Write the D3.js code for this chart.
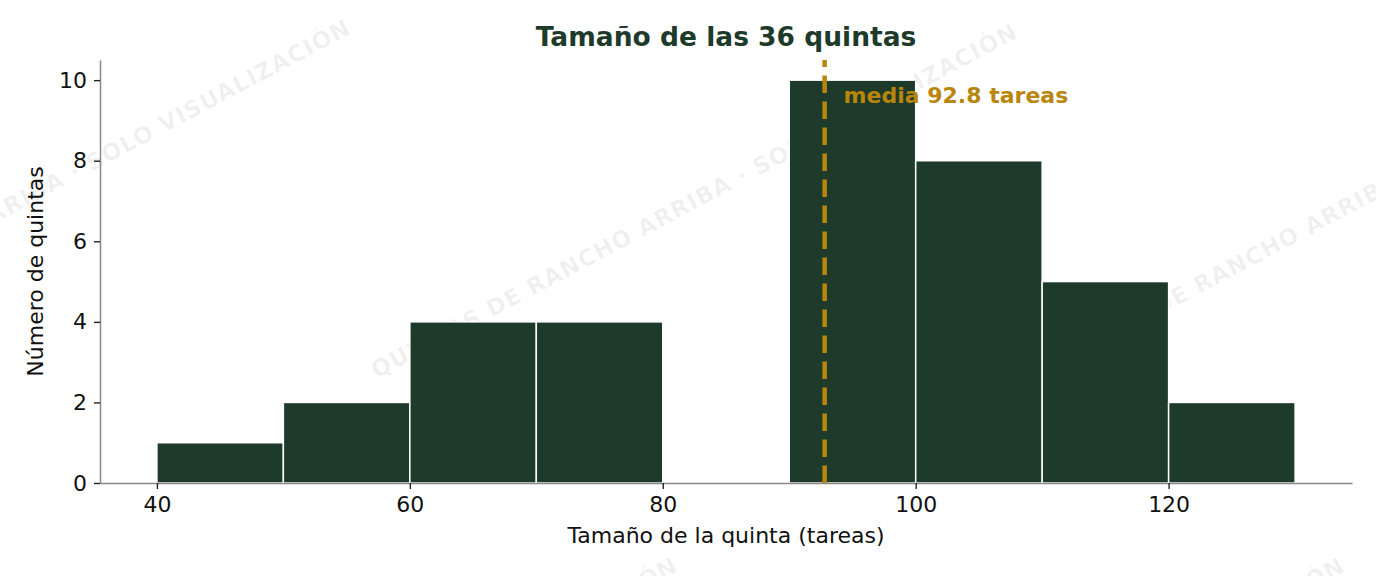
<!DOCTYPE html>
<html>
<head>
<meta charset="utf-8">
<script src="https://cdn.jsdelivr.net/npm/d3@7"></script>
<style>
  html, body { margin: 0; padding: 0; background: #fff; }
  svg { display: block; font-family: "DejaVu Sans", sans-serif; }
</style>
</head>
<body>
<div id="chart"></div>
<script>
// Datos del histograma
const binStarts = [40, 50, 60, 70, 80, 90, 100, 110, 120];
const binWidth = 10;
const counts = [1, 2, 4, 4, 0, 10, 8, 5, 2];
const xTicks = [40, 60, 80, 100, 120];
const yTicks = [0, 2, 4, 6, 8, 10];
const meanValue = 92.8;

const width = 1376, height = 576;
const margin = { top: 60, right: 24, bottom: 93, left: 100 };
const green = '#1e3a2a';
const gold = '#b8860b';

const svg = d3.select('#chart')
  .append('svg')
  .attr('width', width)
  .attr('height', height);

// Marca de agua (detrás de todo)
const wm = svg.append('g').attr('class', 'watermark');
const wmText = 'QUINTAS DE RANCHO ARRIBA  ·  SOLO VISUALIZACIÓN';
const wmCenters = [[28, 198], [695, 202], [1362, 200], [355, 736], [1022, 736]];
wmCenters.forEach(([cx, cy]) => {
  wm.append('text')
    .attr('transform', `translate(${cx},${cy}) rotate(-28)`)
    .attr('text-anchor', 'middle')
    .attr('dominant-baseline', 'middle')
    .style('font-size', '23px')
    .style('font-weight', 'bold')
    .style('letter-spacing', '1px')
    .style('fill', '#000')
    .style('fill-opacity', 0.06)
    .text(wmText);
});

// Escalas
const x = d3.scaleLinear()
  .domain([35.5, 134.5])
  .range([margin.left, width - margin.right]);
const y = d3.scaleLinear()
  .domain([0, 10.5])
  .range([height - margin.bottom, margin.top]);

// Barras
svg.append('g')
  .selectAll('rect')
  .data(binStarts.map((s, i) => ({ x0: s, x1: s + binWidth, n: counts[i] })).filter(d => d.n > 0))
  .enter().append('rect')
  .attr('x', d => x(d.x0))
  .attr('y', d => y(d.n))
  .attr('width', d => x(d.x1) - x(d.x0))
  .attr('height', d => y(0) - y(d.n))
  .style('fill', green)
  .style('stroke', '#fff')
  .style('stroke-width', 1.5);

// Ejes
const xAxis = svg.append('g')
  .attr('transform', `translate(0,${y(0)})`)
  .call(d3.axisBottom(x).tickValues(xTicks).tickSize(6).tickPadding(7).tickSizeOuter(0));
const yAxis = svg.append('g')
  .attr('transform', `translate(${x.range()[0]},0)`)
  .call(d3.axisLeft(y).tickValues(yTicks).tickSize(6).tickPadding(7).tickSizeOuter(0));

[xAxis, yAxis].forEach(ax => {
  ax.select('.domain').style('stroke', '#888').style('stroke-width', 1.5);
  ax.selectAll('.tick line').style('stroke', '#222').style('stroke-width', 1.4);
  ax.selectAll('.tick text')
    .style('font-size', '22px')
    .style('font-family', '"DejaVu Sans", sans-serif')
    .style('fill', '#111');
});

// Línea de la media
svg.append('line')
  .attr('x1', x(meanValue)).attr('x2', x(meanValue))
  .attr('y1', y(0)).attr('y2', margin.top)
  .style('stroke', gold)
  .style('stroke-width', 4.5)
  .style('stroke-dasharray', '17.5,8.5');

svg.append('text')
  .attr('x', x(meanValue + 1.5))
  .attr('y', y(9.6))
  .attr('dy', '0.3em')
  .style('font-size', '22px')
  .style('font-weight', 'bold')
  .style('fill', gold)
  .text(`media ${meanValue} tareas`);

// Títulos
const cx = (x.range()[0] + x.range()[1]) / 2;
svg.append('text')
  .attr('x', cx)
  .attr('y', 46)
  .attr('text-anchor', 'middle')
  .style('font-size', '26.5px')
  .style('font-weight', 'bold')
  .style('fill', green)
  .text('Tamaño de las 36 quintas');

svg.append('text')
  .attr('x', cx)
  .attr('y', 543)
  .attr('text-anchor', 'middle')
  .style('font-size', '22px')
  .style('fill', '#111')
  .text('Tamaño de la quinta (tareas)');

svg.append('text')
  .attr('transform', `translate(43,${(y(0) + margin.top) / 2}) rotate(-90)`)
  .attr('text-anchor', 'middle')
  .style('font-size', '22px')
  .style('fill', '#111')
  .text('Número de quintas');
</script>
</body>
</html>
